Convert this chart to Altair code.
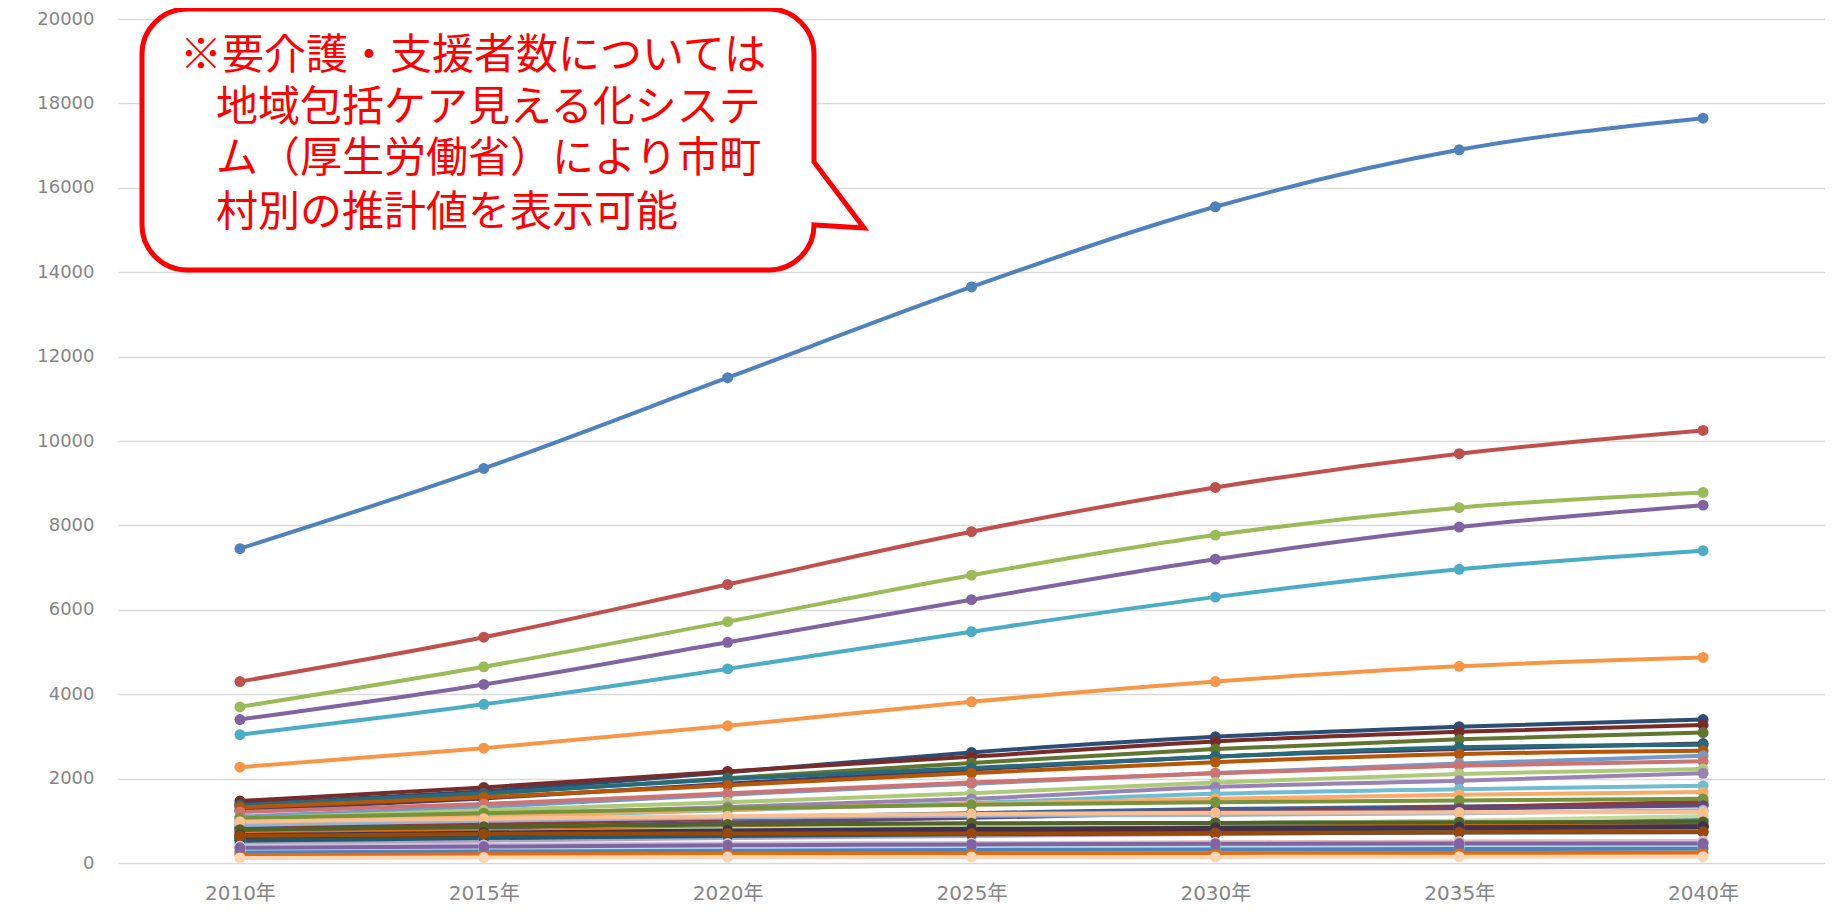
import altair as alt
import pandas as pd

years = ["2010年", "2015年", "2020年", "2025年", "2030年", "2035年", "2040年"]

s01 = [7450, 9350, 11500, 13650, 15550, 16900, 17650]
s02 = [4300, 5350, 6600, 7850, 8900, 9700, 10250]
s03 = [3700, 4650, 5720, 6820, 7770, 8420, 8780]
s04 = [3400, 4230, 5230, 6240, 7200, 7960, 8480]
s05 = [3040, 3760, 4600, 5480, 6300, 6960, 7400]
s06 = [2270, 2720, 3250, 3820, 4300, 4660, 4870]
s07 = [1400, 1700, 2150, 2620, 2990, 3230, 3400]
s08 = [1470, 1790, 2170, 2520, 2880, 3110, 3270]
s09 = [1350, 1640, 2010, 2370, 2700, 2930, 3090]
s10 = [1250, 1530, 1880, 2210, 2520, 2700, 2830]
s11 = [1370, 1650, 1990, 2250, 2520, 2740, 2800]
s12 = [1320, 1560, 1840, 2130, 2390, 2580, 2660]
s13 = [1100, 1330, 1620, 1880, 2130, 2360, 2540]
s14 = [1210, 1400, 1650, 1910, 2125, 2305, 2410]
s15 = [1050, 1250, 1440, 1650, 1910, 2110, 2230]
s16 = [960, 1130, 1330, 1520, 1800, 1950, 2125]
s17 = [900, 1080, 1250, 1420, 1640, 1750, 1830]
s18 = [1000, 1110, 1270, 1400, 1520, 1620, 1680]
s19 = [850, 960, 1080, 1180, 1280, 1340, 1380]
s20 = [800, 920, 1050, 1150, 1210, 1320, 1450]
s21 = [1060, 1180, 1290, 1380, 1440, 1480, 1520]
s22 = [720, 830, 960, 1070, 1190, 1290, 1360]
s23 = [660, 740, 820, 880, 940, 990, 1020]
s24 = [700, 760, 820, 870, 900, 920, 930]
s25 = [900, 1000, 1080, 1120, 1140, 1180, 1250]
s26 = [580, 640, 700, 750, 790, 820, 840]
s27 = [640, 720, 800, 870, 940, 1000, 1110]
s28 = [470, 530, 590, 640, 690, 730, 760]
s29 = [540, 610, 680, 740, 790, 840, 870]
s30 = [980, 1050, 1110, 1160, 1190, 1200, 1210]
s31 = [580, 640, 700, 750, 790, 820, 850]
s32 = [610, 660, 720, 770, 810, 840, 870]
s33 = [790, 860, 910, 940, 950, 965, 975]
s34 = [660, 720, 770, 810, 830, 850, 865]
s35 = [530, 590, 640, 680, 700, 720, 730]
s36 = [640, 690, 700, 700, 710, 730, 740]
s37 = [350, 380, 410, 430, 450, 460, 470]
s38 = [390, 420, 450, 470, 490, 510, 520]
s39 = [280, 300, 320, 330, 340, 345, 350]
s40 = [400, 430, 460, 470, 470, 480, 490]
s41 = [300, 320, 340, 360, 370, 380, 390]
s42 = [250, 270, 290, 310, 320, 330, 340]
s43 = [190, 205, 215, 225, 230, 235, 240]
s44 = [360, 390, 420, 440, 455, 460, 460]
s45 = [120, 130, 140, 145, 145, 150, 150]

series_values = [s01, s02, s03, s04, s05, s06, s07, s08, s09, s10, s11, s12, s13, s14, s15,
                 s16, s17, s18, s19, s20, s21, s22, s23, s24, s25, s26, s27, s28, s29, s30,
                 s31, s32, s33, s34, s35, s36, s37, s38, s39, s40, s41, s42, s43, s44, s45]
series_names = [f"系列{i+1}" for i in range(len(series_values))]
series_colors = [
    "#4F81BD", "#C0504D", "#9BBB59", "#8064A2", "#4BACC6", "#F79646",
    "#2C4D75", "#772C2A", "#5F7530", "#4D3B62", "#276A7C", "#B65708",
    "#729ACA", "#CD7371", "#AFC97A", "#9983B5", "#6FBDD1", "#F9AB6B",
    "#3B6496", "#953735", "#77933C", "#604A7B", "#31859C", "#E46C0A",
    "#95B3D7", "#D99694", "#C3D69B", "#B3A2C7", "#93CDDD", "#FAC090",
    "#254061", "#632523", "#4F6228", "#3F3151", "#215968", "#984807",
    "#B9CDE5", "#E6B9B8", "#D7E4BD", "#CCC1DA", "#B7DEE8", "#4F81BD",
    "#E46C0A", "#8064A2", "#FCD5B5",
]

callout_lines = [
    "※要介護・支援者数については",
    "地域包括ケア見える化システ",
    "ム（厚生労働省）により市町",
    "村別の推計値を表示可能",
]

rows = []
for name, vals in zip(series_names, series_values):
    for yr, v in zip(years, vals):
        rows.append({"series": name, "year": yr, "value": v})
df = pd.DataFrame(rows)

x_enc = alt.X("year:N", sort=years,
              scale=alt.Scale(type="point", padding=0.5),
              axis=alt.Axis(title=None, labelAngle=0, grid=False, ticks=False, domain=False,
                            labelFont="DejaVu Sans, Noto Sans CJK JP", labelFontSize=20,
                            labelColor="#858585", labelPadding=20))
y_enc = alt.Y("value:Q", scale=alt.Scale(domain=[0, 20000], nice=False),
              axis=alt.Axis(title=None, values=list(range(0, 20001, 2000)), format="d",
                            grid=True, gridColor="#D9D9D9", gridWidth=1.5,
                            ticks=False, domain=False, labelFont="DejaVu Sans",
                            labelFontSize=18, labelColor="#858585", labelPadding=24))
c_enc = alt.Color("series:N", scale=alt.Scale(domain=series_names, range=series_colors), legend=None)

base = alt.Chart(df).encode(x=x_enc, y=y_enc, color=c_enc)
lines = base.mark_line(strokeWidth=4, interpolate="monotone")
points = base.mark_circle(size=120, opacity=1)

one = pd.DataFrame({"k": [0]})
path = ("M45,0 L627,0 C651.8,0 672,20.2 672,45 L672,153 L722,219 L672,216 "
        "C672,240.8 651.8,261 627,261 L45,261 C20.2,261 0,240.8 0,216 L0,45 "
        "C0,20.2 20.2,0 45,0 Z")
bubble = alt.Chart(one).mark_point(shape=path, size=4, filled=True, fill="white",
                                   stroke="#FF0000", strokeWidth=5, opacity=1,
                                   fillOpacity=1, strokeOpacity=1).encode(
    x=alt.value(24), y=alt.value(-10))

text_layers = []
text_x = [62, 98, 98, 98]
text_y = [37, 89, 140, 194]
for line, tx, ty in zip(callout_lines, text_x, text_y):
    text_layers.append(
        alt.Chart(one).mark_text(text=line, align="left", baseline="middle",
                                 font="Noto Sans CJK JP", fontSize=42, color="#FF0000").encode(
            x=alt.value(tx), y=alt.value(ty)))

chart = alt.layer(lines, points, bubble, *text_layers).properties(
    width=1707, height=844,
    padding={"left": 110, "top": 11, "right": 0, "bottom": 44},
    autosize="none",
    background="white",
).configure_view(stroke=None)

chart.save("out.html", embed_options={"renderer": "svg", "actions": False})
